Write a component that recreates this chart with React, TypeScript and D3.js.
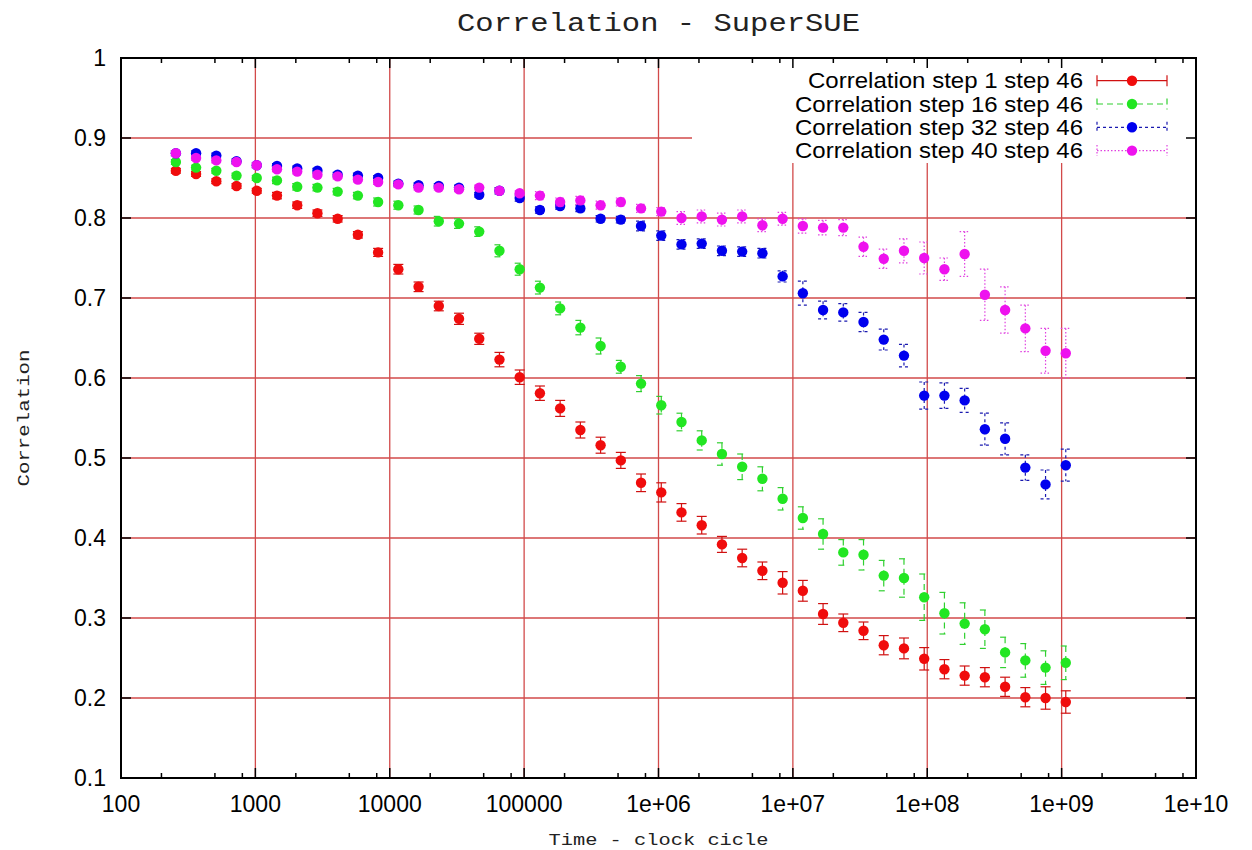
import React from "react";
import * as d3 from "d3";

// ---- data ----
const times = [
  256, 362, 512, 724, 1024, 1448, 2048, 2896, 4096, 5793, 8192, 11585, 16384, 23170, 32768,
  46341, 65536, 92682, 131072, 185364, 262144, 370728, 524288, 741455, 1048576, 1482910,
  2097152, 2965821, 4194304, 5931642, 8388608, 11863283, 16777216, 23726566, 33554432,
  47453133, 67108864, 94906266, 134217728, 189812531, 268435456, 379625062, 536870912,
  759250125, 1073741824,
];

const step1 = [
  0.859, 0.855, 0.846, 0.84, 0.834, 0.828, 0.816, 0.806, 0.799, 0.779, 0.757, 0.736, 0.714, 0.69,
  0.674, 0.649, 0.623, 0.601, 0.581, 0.562, 0.535, 0.516, 0.497, 0.469, 0.457, 0.432, 0.416, 0.392,
  0.375, 0.359, 0.344, 0.334, 0.305, 0.294, 0.284, 0.266, 0.262, 0.249, 0.236, 0.228, 0.226, 0.214,
  0.201, 0.2, 0.195,
];
const step1Err = [
  0.003, 0.003, 0.003, 0.003, 0.003, 0.004, 0.004, 0.004, 0.004, 0.004, 0.005, 0.006, 0.006, 0.006,
  0.007, 0.007, 0.009, 0.009, 0.009, 0.01, 0.01, 0.01, 0.01, 0.011, 0.012, 0.011, 0.011, 0.01, 0.011,
  0.011, 0.014, 0.013, 0.013, 0.011, 0.011, 0.012, 0.013, 0.014, 0.012, 0.012, 0.012, 0.012, 0.012,
  0.014, 0.014,
];

const step16 = [
  0.87, 0.863, 0.859, 0.853, 0.85, 0.847, 0.839, 0.838, 0.833, 0.828, 0.82, 0.816, 0.81, 0.796, 0.793,
  0.783, 0.759, 0.736, 0.713, 0.687, 0.663, 0.64, 0.614, 0.593, 0.566, 0.545, 0.522, 0.505, 0.489,
  0.474, 0.449, 0.425, 0.405, 0.382, 0.379, 0.353, 0.35, 0.326, 0.306, 0.293, 0.286, 0.257, 0.247,
  0.238, 0.244,
];
const step16Err = [
  0.003, 0.003, 0.003, 0.003, 0.003, 0.004, 0.004, 0.004, 0.004, 0.004, 0.005, 0.005, 0.005, 0.006,
  0.006, 0.006, 0.0075, 0.0075, 0.008, 0.008, 0.009, 0.01, 0.008, 0.01, 0.011, 0.011, 0.012, 0.014,
  0.016, 0.015, 0.014, 0.014, 0.019, 0.016, 0.019, 0.019, 0.024, 0.029, 0.026, 0.026, 0.024, 0.019,
  0.021, 0.021, 0.021,
];

const step32 = [
  0.881, 0.881, 0.878, 0.871, 0.866, 0.865, 0.862, 0.859, 0.854, 0.853, 0.85, 0.843, 0.841, 0.84,
  0.838, 0.829, 0.834, 0.825, 0.81, 0.815, 0.812, 0.799, 0.798, 0.79, 0.778, 0.767, 0.768, 0.759,
  0.758, 0.756, 0.727, 0.706, 0.685, 0.682, 0.67, 0.648, 0.628, 0.578, 0.578, 0.572, 0.536, 0.524,
  0.488, 0.467, 0.491,
];
const step32Err = [
  0.003, 0.003, 0.003, 0.003, 0.003, 0.003, 0.003, 0.003, 0.003, 0.003, 0.003, 0.003, 0.003, 0.003,
  0.003, 0.003, 0.004, 0.004, 0.004, 0.004, 0.004, 0.004, 0.004, 0.006, 0.006, 0.006, 0.006, 0.006,
  0.006, 0.006, 0.007, 0.015, 0.011, 0.011, 0.012, 0.013, 0.014, 0.017, 0.016, 0.015, 0.02, 0.02,
  0.016, 0.018, 0.02,
];

const step40 = [
  0.881, 0.875, 0.872, 0.87, 0.866, 0.861, 0.858, 0.854, 0.852, 0.848, 0.845, 0.842, 0.838, 0.838,
  0.836, 0.838, 0.834, 0.831, 0.828, 0.82, 0.822, 0.816, 0.82, 0.812, 0.808, 0.8, 0.802, 0.798, 0.802,
  0.791, 0.799, 0.79, 0.788, 0.788, 0.764, 0.749, 0.759, 0.75, 0.736, 0.755, 0.704, 0.685, 0.662,
  0.634, 0.631,
];
const step40Err = [
  0.003, 0.003, 0.003, 0.003, 0.003, 0.003, 0.003, 0.003, 0.003, 0.003, 0.003, 0.003, 0.003, 0.003,
  0.003, 0.003, 0.003, 0.003, 0.005, 0.005, 0.005, 0.005, 0.005, 0.005, 0.005, 0.008, 0.008, 0.008,
  0.008, 0.008, 0.008, 0.009, 0.009, 0.01, 0.012, 0.012, 0.015, 0.02, 0.014, 0.028, 0.032, 0.029,
  0.029, 0.028, 0.031,
];

const seriesNames = [
  "Correlation step 1 step 46",
  "Correlation step 16 step 46",
  "Correlation step 32 step 46",
  "Correlation step 40 step 46",
];

const xTickValues = [1e2, 1e3, 1e4, 1e5, 1e6, 1e7, 1e8, 1e9, 1e10];
const xTickLabels = ["100", "1000", "10000", "100000", "1e+06", "1e+07", "1e+08", "1e+09", "1e+10"];
const yTickValues = [0.1, 0.2, 0.3, 0.4, 0.5, 0.6, 0.7, 0.8, 0.9, 1];
const yTickLabels = ["0.1", "0.2", "0.3", "0.4", "0.5", "0.6", "0.7", "0.8", "0.9", "1"];
const minorMultipliers = [2, 5, 8];

const titleText = "Correlation - SuperSUE";
const xLabelText = "Time - clock cicle";
const yLabelText = "Correlation";

// ---- styles ----
const W = 1252;
const H = 850;
const L = 121, R = 1196, T = 58, B = 778;
const colors = ["#f00c0c", "#22e622", "#0000ee", "#ee12ee"];
const barColors = ["#d01010", "#30d030", "#1a1ab0", "#e040e0"];
const dashes = [undefined, "6,4", "3,3", "1.5,2"];
const gridColor = "#d24a4a";
const sansFont = "'Liberation Sans', Arial, Helvetica, sans-serif";
const monoFont = "'Liberation Mono', 'DejaVu Sans Mono', monospace";

export default function App() {
  const x = d3.scaleLog().domain([1e2, 1e10]).range([L, R]);
  const y = d3.scaleLinear().domain([0.1, 1]).range([B, T]);

  const values = [step1, step16, step32, step40];
  const errors = [step1Err, step16Err, step32Err, step40Err];

  const legendLeft = 692;
  const legendBottom = 163;

  const minorTicks: number[] = [];
  for (let i = 0; i < xTickValues.length - 1; i++) {
    for (const m of minorMultipliers) minorTicks.push(xTickValues[i] * m);
  }

  const capW = 5;
  const r = 5.2;

  return (
    <svg
      width={W}
      height={H}
      style={{ position: "absolute", left: 0, top: 0, background: "#fff" }}
    >
      <rect x={0} y={0} width={W} height={H} fill="#fff" />

      {/* grid */}
      <g stroke={gridColor} strokeWidth={1.3}>
        {xTickValues.slice(1, -1).map((v) => (
          <line key={"gx" + v} x1={x(v)} x2={x(v)} y1={B} y2={T} />
        ))}
        {yTickValues.slice(1, -1).map((v) => (
          <line key={"gy" + v} x1={L} x2={R} y1={y(v)} y2={y(v)} />
        ))}
      </g>
      {/* legend background hides grid */}
      <rect x={legendLeft} y={T} width={R - legendLeft} height={legendBottom - T} fill="#fff" />

      {/* data */}
      {values.map((vals, si) => (
        <g key={"s" + si}>
          <g stroke={barColors[si]} strokeWidth={1.2} strokeDasharray={dashes[si]} fill="none">
            {vals.map((v, i) => {
              const cx = x(times[i]);
              const y1 = y(v + errors[si][i]);
              const y2 = y(v - errors[si][i]);
              return (
                <g key={i}>
                  <line x1={cx} x2={cx} y1={y1} y2={y2} />
                  <line x1={cx - capW} x2={cx + capW} y1={y1} y2={y1} />
                  <line x1={cx - capW} x2={cx + capW} y1={y2} y2={y2} />
                </g>
              );
            })}
          </g>
          <g fill={colors[si]}>
            {vals.map((v, i) => (
              <circle key={i} cx={x(times[i])} cy={y(v)} r={r} />
            ))}
          </g>
        </g>
      ))}

      {/* border */}
      <rect x={L} y={T} width={R - L} height={B - T} fill="none" stroke="#000" strokeWidth={2} />

      {/* ticks */}
      <g stroke="#000" strokeWidth={1.5}>
        {xTickValues.map((v) => (
          <g key={"tx" + v}>
            <line x1={x(v)} x2={x(v)} y1={B} y2={B - 10} />
            <line x1={x(v)} x2={x(v)} y1={T} y2={T + 10} />
          </g>
        ))}
        {minorTicks.map((v) => (
          <g key={"mx" + v}>
            <line x1={x(v)} x2={x(v)} y1={B} y2={B - 5} />
            <line x1={x(v)} x2={x(v)} y1={T} y2={T + 5} />
          </g>
        ))}
        {yTickValues.map((v) => (
          <g key={"ty" + v}>
            <line x1={L} x2={L + 10} y1={y(v)} y2={y(v)} />
            <line x1={R} x2={R - 10} y1={y(v)} y2={y(v)} />
          </g>
        ))}
      </g>

      {/* tick labels */}
      <g fontFamily={sansFont} fontSize={23} fill="#000">
        {xTickValues.map((v, i) => (
          <text key={"lx" + v} x={x(v)} y={812} textAnchor="middle">
            {xTickLabels[i]}
          </text>
        ))}
        {yTickValues.map((v, i) => (
          <text key={"ly" + v} x={106} y={y(v) + 8} textAnchor="end">
            {yTickLabels[i]}
          </text>
        ))}
      </g>

      {/* legend */}
      <g>
        {seriesNames.map((name, i) => {
          const cy = 80.7 + i * 23.3;
          return (
            <g key={"lg" + i}>
              <text
                x={1083}
                y={cy + 7.5}
                textAnchor="end"
                fontFamily={sansFont}
                fontSize={21.5}
                textLength={i === 0 ? 275 : 288}
                lengthAdjust="spacingAndGlyphs"
                fill="#000"
              >
                {name}
              </text>
              <g stroke={barColors[i]} strokeWidth={1.2} strokeDasharray={dashes[i]}>
                <line x1={1097} x2={1167} y1={cy} y2={cy} />
                <line x1={1097} x2={1097} y1={cy - 5.5} y2={cy + 5.5} />
                <line x1={1167} x2={1167} y1={cy - 5.5} y2={cy + 5.5} />
              </g>
              <circle cx={1132} cy={cy} r={r} fill={colors[i]} />
            </g>
          );
        })}
      </g>

      {/* titles */}
      <text
        x={(L + R) / 2}
        y={31}
        textAnchor="middle"
        fontFamily={monoFont}
        fontSize={26}
        textLength={403}
        lengthAdjust="spacingAndGlyphs"
        fill="#222"
      >
        {titleText}
      </text>
      <text
        x={(L + R) / 2}
        y={845}
        textAnchor="middle"
        fontFamily={monoFont}
        fontSize={16.5}
        textLength={220}
        lengthAdjust="spacingAndGlyphs"
        fill="#222"
      >
        {xLabelText}
      </text>
      <text
        transform={`translate(29, ${(T + B) / 2}) rotate(-90)`}
        textAnchor="middle"
        fontFamily={monoFont}
        fontSize={16.5}
        textLength={137}
        lengthAdjust="spacingAndGlyphs"
        fill="#222"
      >
        {yLabelText}
      </text>
    </svg>
  );
}
